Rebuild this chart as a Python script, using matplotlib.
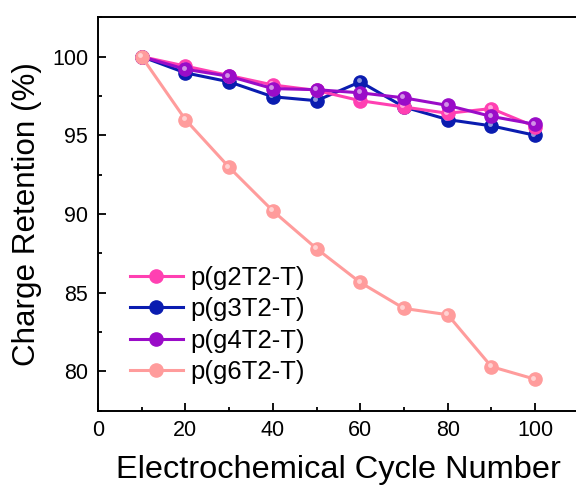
import matplotlib
matplotlib.use('Agg')
import matplotlib.pyplot as plt
from matplotlib.ticker import MultipleLocator
from matplotlib.transforms import offset_copy

plt.rcParams['font.family'] = ['Liberation Sans', 'DejaVu Sans']

# data
cycles = [10, 20, 30, 40, 50, 60, 70, 80, 90, 100]
g2 = [100.0, 99.4, 98.8, 98.2, 97.85, 97.2, 96.8, 96.4, 96.7, 95.55]
g3 = [100.0, 98.97, 98.4, 97.45, 97.2, 98.4, 96.8, 96.0, 95.6, 95.0]
g4 = [100.0, 99.2, 98.75, 97.97, 97.9, 97.7, 97.38, 96.9, 96.2, 95.7]
g6 = [100.0, 96.0, 92.97, 90.2, 87.8, 85.65, 84.0, 83.6, 80.3, 79.5]

names = ['p(g2T2-T)', 'p(g3T2-T)', 'p(g4T2-T)', 'p(g6T2-T)']
colors = ['#FF40B2', '#0A1CB0', '#9A0CC8', '#FF9C9C']
zorders = [3, 2, 4, 5]

fig = plt.figure(figsize=(5.76, 4.91), dpi=100)
ax = fig.add_axes([0.170, 0.1635, 0.835, 0.8013])

series = [g2, g3, g4, g6]
for y, name, c, z in zip(series, names, colors, zorders):
    ax.plot(cycles, y, '-o', color=c, lw=2.2, ms=9.5, mec=c, mfc=c,
            label=name, zorder=z)
    # little shine on the balls
    shine = offset_copy(ax.transData, fig=fig, x=-1.2, y=1.2, units='points')
    ax.plot(cycles, y, 'o', color='white', ms=3.5, alpha=0.55, mec='none',
            transform=shine, zorder=z + 0.1)

ax.set_xlim(0, 110)
ax.set_ylim(77.5, 102.5)
ax.set_xticks([0, 20, 40, 60, 80, 100])
ax.xaxis.set_minor_locator(MultipleLocator(10))
ax.yaxis.set_major_locator(MultipleLocator(5))
ax.yaxis.set_minor_locator(MultipleLocator(2.5))

ax.tick_params(which='both', direction='in', labelsize=15.5, width=1.3)
ax.tick_params(which='major', length=5.5, pad=7)
ax.tick_params(which='minor', length=3)
for s in ['left', 'bottom', 'top']:
    ax.spines[s].set_linewidth(1.4)
ax.spines['right'].set_visible(False)

ax.set_xlabel('Electrochemical Cycle Number', fontsize=23.4, labelpad=10)
ax.set_ylabel('Charge Retention (%)', fontsize=22.6, labelpad=7)

ax.legend(loc='center left', bbox_to_anchor=(0.0665, 0.218), frameon=False,
          fontsize=18.5, borderpad=0, borderaxespad=0, handlelength=2.05,
          handletextpad=0.3, labelspacing=0.28)

fig.savefig('out.png', dpi=100)
